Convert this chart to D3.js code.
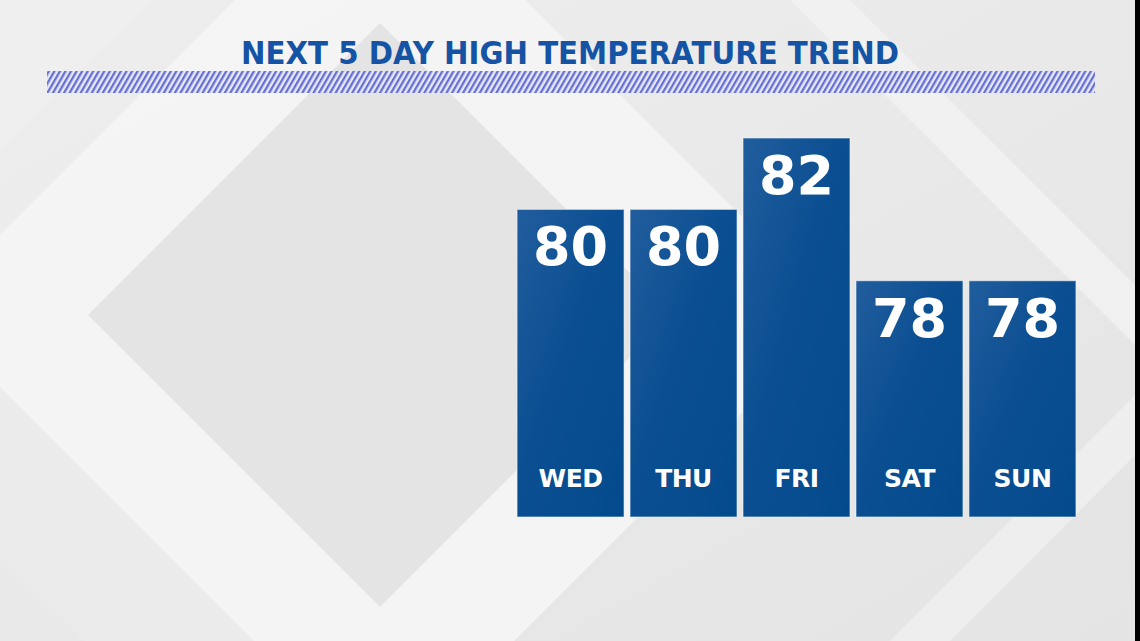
<!DOCTYPE html>
<html><head><meta charset="utf-8">
<script src="https://cdn.jsdelivr.net/npm/d3@7"></script>
<style>html,body{margin:0;padding:0;overflow:hidden;background:#e8e8e8}</style>
</head><body>
<script>
const title = "NEXT 5 DAY HIGH TEMPERATURE TREND";
const days = ["WED","THU","FRI","SAT","SUN"];
const highs = [80, 80, 82, 78, 78];

const W = 1140, H = 641;
const svg = d3.select("body").append("svg").attr("width", W).attr("height", H);
const defs = svg.append("defs");

// background
const bg = defs.append("linearGradient").attr("id","bg").attr("x1","0").attr("y1","0").attr("x2","1").attr("y2","1");
bg.append("stop").attr("offset","0").attr("stop-color","#eeeeee");
bg.append("stop").attr("offset","1").attr("stop-color","#e4e4e4");
svg.append("rect").attr("width",W).attr("height",H).attr("fill","url(#bg)");

function diamond(cx, cy, r){ return [[cx-r,cy],[cx,cy-r],[cx+r,cy],[cx,cy+r]]; }
const line = d3.line();
const bgG = svg.append("g");
// light band around the inner diamond
bgG.append("path").attr("fill","#f5f5f5").attr("opacity",0.9)
  .attr("d", line(diamond(380,315,460))+"Z");
bgG.append("path").attr("fill","#e4e4e4")
  .attr("d", line(diamond(380,315,292))+"Z");
// lower-left darker band
bgG.append("path").attr("fill","#ebebeb")
  .attr("d", line([[0,387],[254,641],[85,641],[0,556]])+"Z");
// upper-left corner
bgG.append("path").attr("fill","#efefef")
  .attr("d", line([[0,0],[150,0],[0,150]])+"Z");
// right side bands
bgG.append("path").attr("fill","#f2f2f2").attr("opacity",0.8)
  .attr("d", line([[850,0],[1140,290],[1140,350],[790,0]])+"Z");
bgG.append("path").attr("fill","#f0f0f0").attr("opacity",0.8)
  .attr("d", line([[1140,390],[890,641],[950,641],[1140,450]])+"Z");

// title
svg.append("text").attr("x",570).attr("y",64).attr("text-anchor","middle")
  .attr("font-family","'DejaVu Sans'").attr("font-weight","bold").attr("font-size",32)
  .attr("fill","#1553a4").attr("textLength",658).attr("lengthAdjust","spacingAndGlyphs")
  .text(title);

// hatch band
const pat = defs.append("pattern").attr("id","hatch").attr("patternUnits","userSpaceOnUse")
  .attr("width",4.8).attr("height",6).attr("patternTransform","rotate(30)");
pat.append("rect").attr("width",2.3).attr("height",6).attr("fill","#6670d3");
svg.append("rect").attr("x",47).attr("y",71).attr("width",1048).attr("height",22).attr("fill","#e6e8f3");
svg.append("rect").attr("x",47).attr("y",71).attr("width",1048).attr("height",22).attr("fill","url(#hatch)");

// bars
const x = d3.scaleBand().domain(days).range([514, 1079]).paddingInner(0.053).paddingOuter(0.027);
const y = d3.scaleLinear().domain([71.38, 82]).range([517, 138]);

const bgr = defs.append("linearGradient").attr("id","bar").attr("x1","0").attr("y1","0").attr("x2","1").attr("y2","1");
bgr.append("stop").attr("offset","0").attr("stop-color","#215d9d");
bgr.append("stop").attr("offset","0.45").attr("stop-color","#0b4f92");
bgr.append("stop").attr("offset","1").attr("stop-color","#034a8c");

const g = svg.append("g");
const data = days.map((d,i)=>({day:d, v:highs[i]}));
g.selectAll("rect.bar").data(data).join("rect").attr("class","bar")
  .attr("x", d=>x(d.day)).attr("y", d=>y(d.v))
  .attr("width", x.bandwidth()).attr("height", d=>y.range()[0]-y(d.v))
  .attr("fill","url(#bar)").attr("stroke","#f4f6fa").attr("stroke-opacity",0.6).attr("stroke-width",1);

g.selectAll("text.val").data(data).join("text").attr("class","val")
  .attr("x", d=>x(d.day)+x.bandwidth()/2).attr("y", d=>y(d.v)+56)
  .attr("text-anchor","middle").attr("font-family","'DejaVu Sans'").attr("font-weight","bold")
  .attr("font-size",54).attr("fill","#ffffff").text(d=>d.v);

g.selectAll("text.day").data(data).join("text").attr("class","day")
  .attr("x", d=>x(d.day)+x.bandwidth()/2).attr("y", y.range()[0]-30)
  .attr("text-anchor","middle").attr("font-family","'DejaVu Sans'").attr("font-weight","bold")
  .attr("font-size",25).attr("letter-spacing",-0.5).attr("fill","#ffffff").text(d=>d.day);

// dark right edge of the frame
svg.append("rect").attr("x",1135).attr("y",0).attr("width",5).attr("height",H).attr("fill","#000");
</script>
</body></html>
